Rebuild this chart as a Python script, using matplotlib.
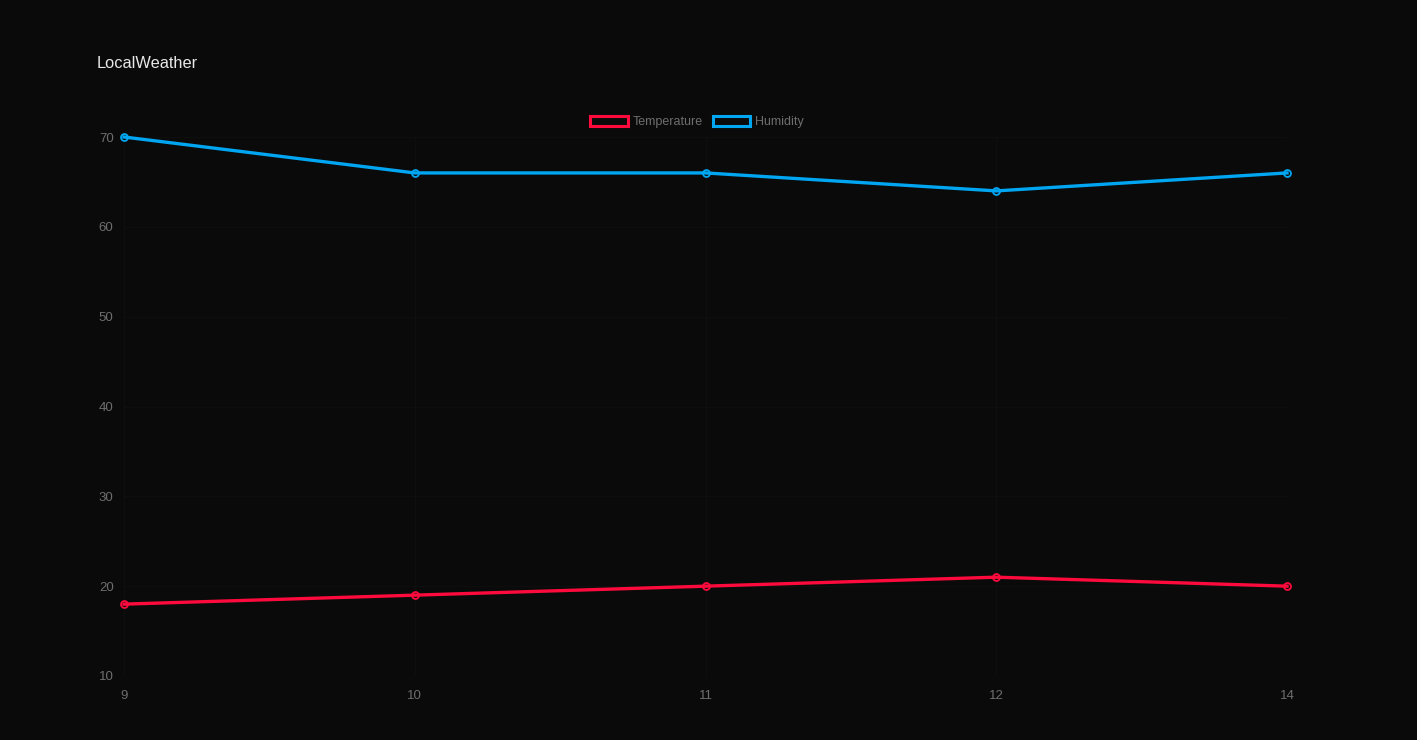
import matplotlib
matplotlib.use("Agg")
import matplotlib.pyplot as plt
from matplotlib.patches import Patch

hours = ["9", "10", "11", "12", "14"]
temperature = [18, 19, 20, 21, 20]
humidity = [70, 66, 66, 64, 66]
y_ticks = [10, 20, 30, 40, 50, 60, 70]

bg = "#0a0a0b"
red = "#ff0a3c"
blue = "#00a6f2"
tick_col = "#6e6e6e"

plt.rcParams["font.family"] = ["Liberation Sans", "DejaVu Sans"]

fig = plt.figure(figsize=(14.17, 7.40), dpi=100, facecolor=bg)
ax = fig.add_axes([124 / 1417, 1 - 676 / 740, (1287 - 124) / 1417, (676 - 137) / 740])
ax.set_facecolor(bg)

x = list(range(len(hours)))
ax.plot(x, temperature, color=red, lw=2.4, marker="o", ms=5, mfc="none", mew=1.3,
        clip_on=False, zorder=3)
ax.plot(x, humidity, color=blue, lw=2.4, marker="o", ms=5, mfc="none", mew=1.3,
        clip_on=False, zorder=3)

ax.set_xlim(0, len(hours) - 1)
ax.set_ylim(10, 70)
ax.set_xticks(x)
ax.set_xticklabels(hours)
ax.set_yticks(y_ticks)
ax.tick_params(colors=tick_col, labelsize=9.5, length=0)
ax.tick_params(axis="x", pad=10)
ax.tick_params(axis="y", pad=7.5)
ax.grid(True, color="#0e0e0f", lw=1)
for s in ax.spines.values():
    s.set_visible(False)

fig.text(97 / 1417, 1 - 63 / 740, "LocalWeather", color="#e8e8e8", fontsize=11.8, va="center")

handles = [Patch(facecolor="none", edgecolor=red, lw=2.2, label="Temperature"),
           Patch(facecolor="none", edgecolor=blue, lw=2.2, label="Humidity")]
fig.legend(handles=handles, loc="center", bbox_to_anchor=(697 / 1417, 1 - 122 / 740),
           ncol=2, frameon=False, fontsize=9, labelcolor=tick_col, handlelength=3.0,
           handleheight=0.9, handletextpad=0.4, columnspacing=0.8)

fig.savefig("out.png", dpi=100, facecolor=bg)
